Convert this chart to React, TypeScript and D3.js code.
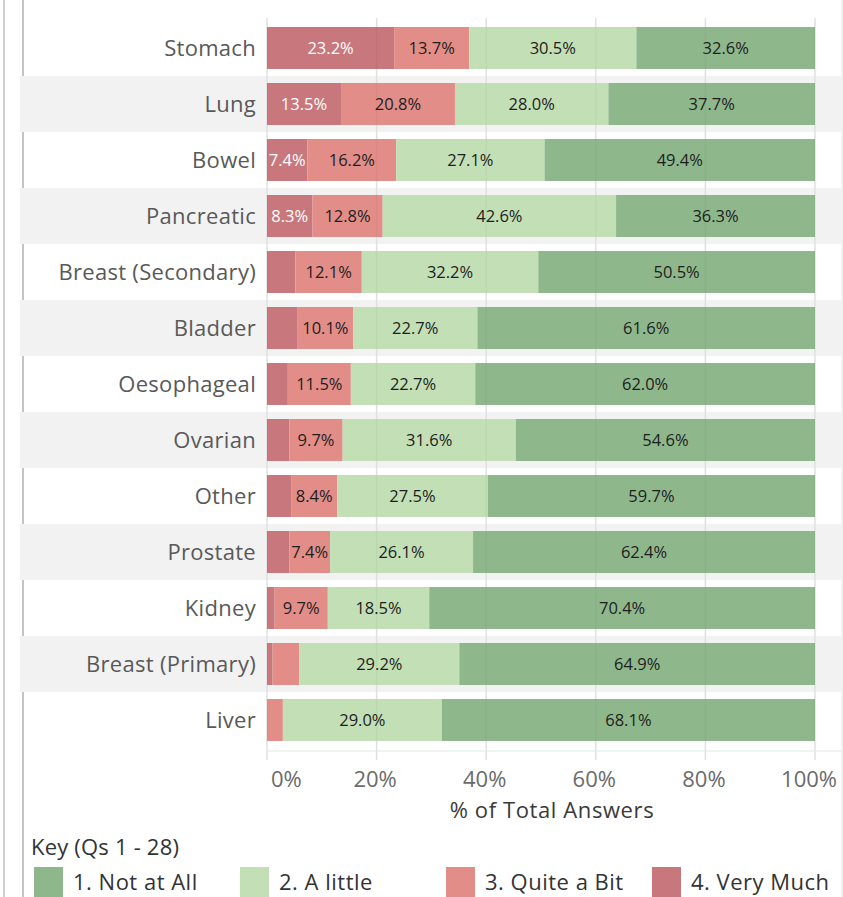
import React from 'react';
import * as d3 from 'd3';

const categories = ['Stomach', 'Lung', 'Bowel', 'Pancreatic', 'Breast (Secondary)', 'Bladder', 'Oesophageal', 'Ovarian', 'Other', 'Prostate', 'Kidney', 'Breast (Primary)', 'Liver'];
const veryMuch = [23.2, 13.5, 7.4, 8.3, 5.2, 5.6, 3.8, 4.1, 4.4, 4.1, 1.4, 1.0, 0];
const quiteABit = [13.7, 20.8, 16.2, 12.8, 12.1, 10.1, 11.5, 9.7, 8.4, 7.4, 9.7, 4.9, 2.9];
const aLittle = [30.5, 28.0, 27.1, 42.6, 32.2, 22.7, 22.7, 31.6, 27.5, 26.1, 18.5, 29.2, 29.0];
const notAtAll = [32.6, 37.7, 49.4, 36.3, 50.5, 61.6, 62.0, 54.6, 59.7, 62.4, 70.4, 64.9, 68.1];
const seriesKeys = ['vm', 'qb', 'al', 'na'];
const seriesNames = ['4. Very Much', '3. Quite a Bit', '2. A little', '1. Not at All'];
const legendOrder = ['1. Not at All', '2. A little', '3. Quite a Bit', '4. Very Much'];
const xTicks = [0, 20, 40, 60, 80, 100];

const colors: Record<string, string> = {
  vm: '#c8787c',
  qb: '#e38d89',
  al: '#c2dfb6',
  na: '#8fb78c',
};
const legendColors: Record<string, string> = {
  '1. Not at All': '#8fb78c',
  '2. A little': '#c2dfb6',
  '3. Quite a Bit': '#e38d89',
  '4. Very Much': '#c8787c',
};

const FONT = '"Open Sans", sans-serif';

export default function App() {
  const W = 843, H = 897;
  const rows = categories.map((c, i) => ({ cat: c, vm: veryMuch[i], qb: quiteABit[i], al: aLittle[i], na: notAtAll[i] }));
  const stack = d3.stack<any>().keys(seriesKeys).offset(d3.stackOffsetExpand);
  const stacked = stack(rows);
  const x = d3.scaleLinear().domain([0, 1]).range([267, 815]);
  const xPct = d3.scaleLinear().domain([0, 100]).range([267, 815]);
  const y = d3.scaleBand<string>().domain(categories).range([20, 748]).paddingInner(0.25).paddingOuter(0.125);
  const step = y.step();
  const bw = y.bandwidth();
  const off = (step - bw) / 2;

  return (
    <svg width={W} height={H} style={{ position: 'absolute', left: 0, top: 0, background: '#fff' }} fontFamily={FONT}>
      <defs>
        <clipPath id="plotclip">
          <rect x={267} y={0} width={560} height={760} />
        </clipPath>
      </defs>
      <line x1={4} x2={4} y1={0} y2={H} stroke="#cfcfcf" strokeWidth={2} />
      <line x1={23} x2={23} y1={0} y2={H} stroke="#c4c4c4" strokeWidth={2} />
      <line x1={842} x2={842} y1={0} y2={H} stroke="#e6e6e6" strokeWidth={1} />
      {categories.map((c, i) => i % 2 === 1 ? (
        <rect key={c} x={20} y={(y(c) as number) - off} width={822} height={step} fill="#f2f2f2" />
      ) : null)}
      {categories.map((c) => (
        <text key={c} x={256} y={(y(c) as number) + bw / 2} dy="0.36em" textAnchor="end" fontSize={22} letterSpacing={0.3} fill="#595959">{c}</text>
      ))}
      {xTicks.map((t) => (
        <line key={'g' + t} x1={xPct(t)} x2={xPct(t)} y1={18} y2={760} stroke="#e9e9e9" strokeWidth={1.5} />
      ))}
      <line x1={267} x2={843} y1={751} y2={751} stroke="#eeeeee" strokeWidth={1.5} />
      <g>
        {stacked.map((s) => (
          <g key={s.key}>
            {s.map((d, i) => (
              <rect key={i} x={x(d[0])} y={y(categories[i]) as number} width={Math.max(0, x(d[1]) - x(d[0]))} height={bw} fill={colors[s.key]} />
            ))}
          </g>
        ))}
      </g>
      {xTicks.map((t) => (
        <line key={'go' + t} x1={xPct(t)} x2={xPct(t)} y1={18} y2={760} stroke="rgba(0,0,0,0.035)" strokeWidth={1.5} />
      ))}
      <g clipPath="url(#plotclip)">
        {stacked.map((s) => (
          <g key={'l' + s.key}>
            {s.map((d, i) => {
              const v = (rows[i] as any)[s.key] as number;
              if (v < 7) return null;
              const cx = (x(d[0]) + x(d[1])) / 2;
              return (
                <text key={i} x={cx} y={(y(categories[i]) as number) + bw / 2} dy="0.36em" textAnchor="middle" fontSize={16.5} fill={s.key === 'vm' ? '#fff' : '#1e1e1e'}>
                  {v.toFixed(1) + '%'}
                </text>
              );
            })}
          </g>
        ))}
      </g>
      {xTicks.map((t, i) => (
        <text key={'t' + t} x={i === 0 ? 271 : i === xTicks.length - 1 ? 837 : xPct(t) - 1.5} y={779} dy="0.36em"
          textAnchor={i === 0 ? 'start' : i === xTicks.length - 1 ? 'end' : 'middle'} fontSize={22} fill="#6b6b6b">{t + '%'}</text>
      ))}
      <text x={552} y={810} dy="0.36em" textAnchor="middle" fontSize={22} letterSpacing={0.6} fill="#3a3a3a">% of Total Answers</text>
      <text x={31} y={847} dy="0.36em" fontSize={22} letterSpacing={0.2} fill="#333">Key (Qs 1 - 28)</text>
      {legendOrder.map((n, i) => (
        <g key={n} transform={`translate(${34 + i * 206},867)`}>
          <rect x={0} y={0} width={29} height={30} fill={legendColors[n]} />
          <text x={39} y={15} dy="0.36em" fontSize={22} letterSpacing={0.5} fill="#333">{n}</text>
        </g>
      ))}
    </svg>
  );
}
